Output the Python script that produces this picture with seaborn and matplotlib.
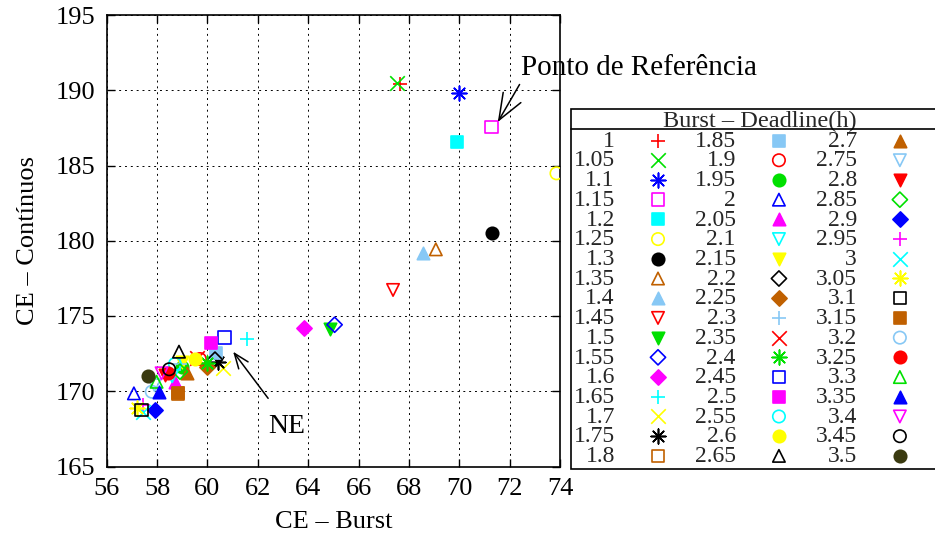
import matplotlib
matplotlib.use("Agg")
import matplotlib.pyplot as plt
from matplotlib.lines import Line2D
import seaborn as sns

# Deadline values of each burst configuration (legend labels)
deadlines = ["1", "1.05", "1.1", "1.15", "1.2", "1.25", "1.3", "1.35", "1.4", "1.45",
             "1.5", "1.55", "1.6", "1.65", "1.7", "1.75", "1.8", "1.85", "1.9", "1.95",
             "2", "2.05", "2.1", "2.15", "2.2", "2.25", "2.3", "2.35", "2.4", "2.45",
             "2.5", "2.55", "2.6", "2.65", "2.7", "2.75", "2.8", "2.85", "2.9", "2.95",
             "3", "3.05", "3.1", "3.15", "3.2", "3.25", "3.3", "3.35", "3.4", "3.45", "3.5"]

# CE for the burst scheme (x) and the continuous scheme (y)
ce_burst = [67.64, 67.51, 69.99, 71.28, 69.91, 73.86, 71.29, 69.07, 68.56, 67.37,
            64.86, 65.05, 63.83, 61.58, 60.63, 60.42, 58.84, 60.34, 59.70, 59.00,
            57.08, 58.71, 58.60, 58.98, 60.30, 59.97, 58.90, 59.60, 60.00, 60.67,
            60.14, 58.71, 59.50, 58.87, 59.17, 57.90, 58.31, 58.91, 57.92, 57.44,
            57.45, 57.19, 57.39, 58.84, 57.79, 58.44, 57.98, 58.09, 58.18, 58.48, 57.65]
ce_continuo = [190.42, 190.46, 189.80, 187.54, 186.58, 184.48, 180.49, 179.43, 179.21, 176.73,
               174.12, 174.42, 174.18, 173.45, 171.52, 171.96, 169.86, 172.56, 172.14, 171.60,
               169.86, 170.63, 171.00, 171.96, 172.10, 171.63, 171.80, 172.20, 171.90, 173.56,
               173.19, 171.81, 172.12, 172.63, 171.19, 170.40, 171.08, 171.30, 168.75, 169.09,
               168.60, 168.87, 168.75, 169.86, 169.97, 171.19, 170.63, 169.97, 171.19, 171.46, 171.01]

# Point-type / colour cycles
ASTER = (8, 2, 0)
shape_cycle = [("+", False), ("x", False), (ASTER, False), ("s", False), ("s", True),
               ("o", False), ("o", True), ("^", False), ("^", True), ("v", False),
               ("v", True), ("D", False), ("D", True)]
color_cycle = ["#ff0000", "#00e000", "#0000ff", "#ff00ff", "#00ffff", "#ffff00",
               "#000000", "#c06000", "#87c8f5"]
styles = [(shape_cycle[i % 13], color_cycle[i % 9]) for i in range(len(deadlines))]
styles[-2] = (("o", False), "#000000")
styles[-1] = (("o", True), "#3a3a10")

sns.set_theme(style="ticks")
plt.rcParams["font.family"] = ["Liberation Serif", "DejaVu Serif"]

W, H = 935, 534
fig = plt.figure(figsize=(W / 100, H / 100), dpi=100)
ax = fig.add_axes([106.7 / W, 1 - 466.5 / H, (560 - 106.7) / W, (466.5 - 15) / H])

for lab, xv, yv, ((mk, filled), col) in zip(deadlines, ce_burst, ce_continuo, styles):
    size = 80 if mk != "D" else 60
    if mk in ("+", "x", ASTER):
        sns.scatterplot(x=[xv], y=[yv], ax=ax, marker=mk, color=col, edgecolor=None,
                        s=size + 30, linewidth=1.2, label=lab, zorder=3)
    elif filled:
        sns.scatterplot(x=[xv], y=[yv], ax=ax, marker=mk, color=col, facecolor=col,
                        edgecolor=col, s=size, linewidth=1.2, label=lab, zorder=3)
    else:
        sns.scatterplot(x=[xv], y=[yv], ax=ax, marker=mk, color=col, facecolor="none",
                        edgecolor=col, s=size, linewidth=1.2, label=lab, zorder=3)

ax.set_xlim(56, 74)
ax.set_ylim(165, 195)
ax.set_xticks(range(56, 75, 2))
ax.set_yticks(range(165, 196, 5))
ax.grid(True, color="black", linestyle=(0, (2, 4)), linewidth=0.7)
ax.tick_params(direction="in", top=True, right=True, length=6, width=1,
               labelsize=19, colors="black", pad=8)
for sp in ax.spines.values():
    sp.set_color("black")
    sp.set_linewidth(1.2)
ax.set_facecolor("white")

ax.set_xlabel("CE – Burst", fontsize=19, color="black", labelpad=8)
ax.set_ylabel("CE – Contínuos", fontsize=19, color="black", labelpad=12)

# Annotations
arrow = dict(arrowstyle="->, head_length=0.9, head_width=0.35",
             color="black", lw=1.1, shrinkA=0, shrinkB=0)
ax.annotate("Ponto de Referência", xy=(71.53, 187.89), xytext=(72.47, 191.0),
            fontsize=21, ha="left", va="baseline", color="black",
            annotation_clip=False, arrowprops=dict(arrow, relpos=(0.0, 0.0)))
ax.annotate("", xy=(61.02, 172.63), xytext=(62.41, 169.53), arrowprops=arrow)
ax.text(63.14, 167.64, "NE", fontsize=20, ha="center", va="center", color="black")

handles, labels = ax.get_legend_handles_labels()
leg = ax.legend(handles, labels, ncol=3, markerfirst=False,
                title="Burst – Deadline(h)", title_fontsize=17.5, fontsize=17,
                loc="upper left", bbox_to_anchor=(571.3 / W, 1 - 108.5 / H),
                bbox_transform=fig.transFigure, borderaxespad=0, borderpad=0.1,
                handlelength=3.95, handletextpad=-0.15, columnspacing=-0.42,
                labelspacing=-0.077, scatterpoints=1, frameon=True, fancybox=False,
                edgecolor="black", framealpha=1, facecolor="white")
leg.get_frame().set_linewidth(1.2)

# Rule under the legend title
fig.canvas.draw()
lb = leg.get_window_extent()
tb = leg.get_title().get_window_extent()
y_rule = (tb.y0 + tb.y1) / 2 - 7.5
fig.add_artist(Line2D([lb.x0 / W, lb.x1 / W], [y_rule / H, y_rule / H],
                      transform=fig.transFigure, color="black", lw=1.2))

fig.savefig("out.png", dpi=100, facecolor="white")
